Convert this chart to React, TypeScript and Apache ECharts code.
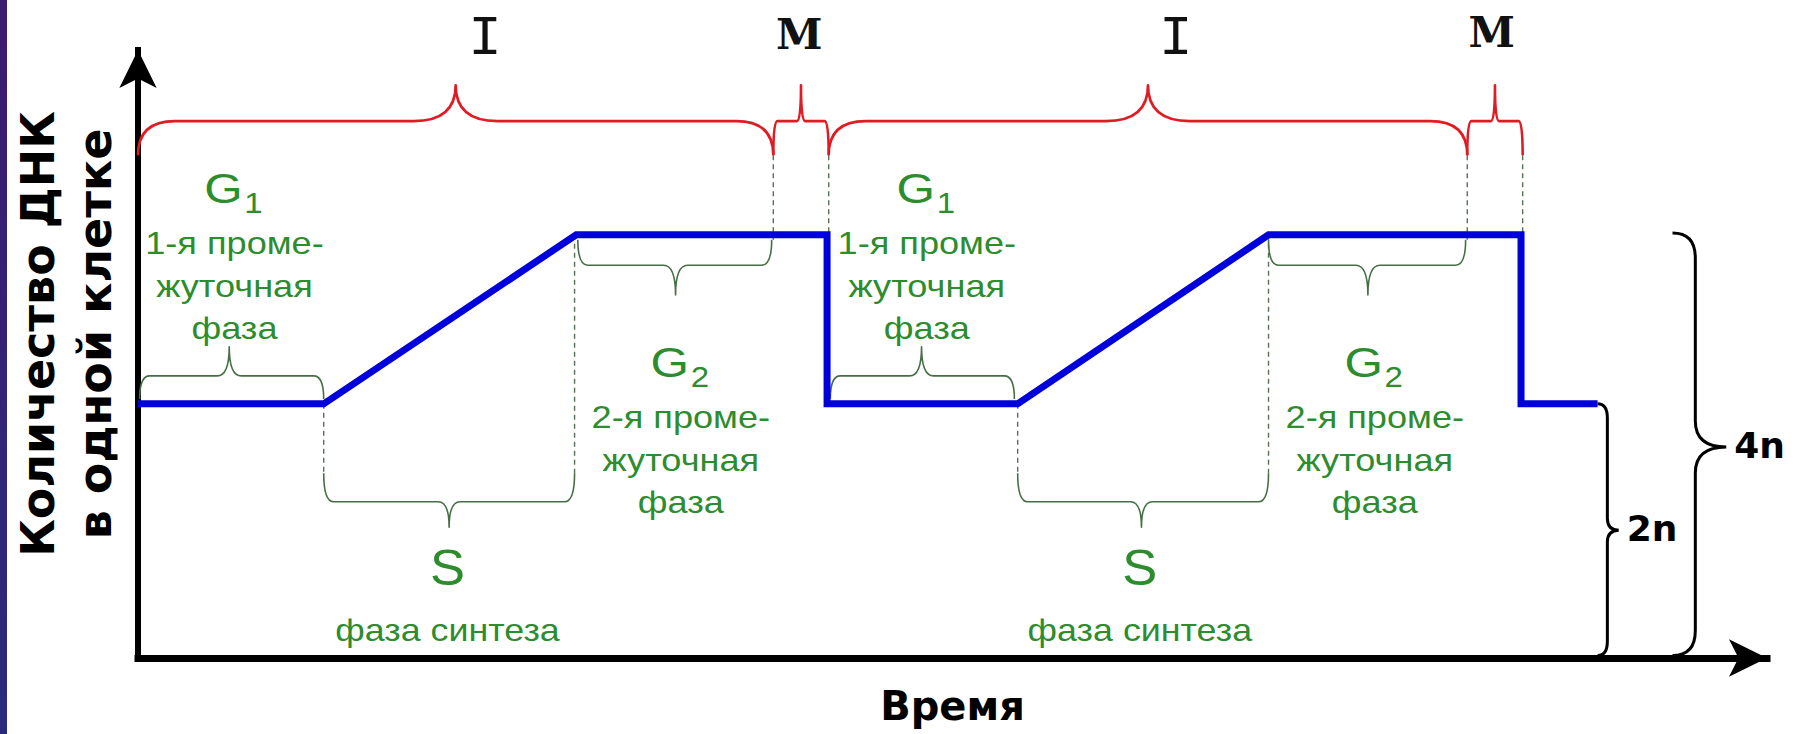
import React, { useEffect, useRef } from 'react';
import * as echarts from 'echarts';

// ---- data (time axis 0..100, DNA amount axis 0..100, relative units as drawn) ----
const DNA_TIME = [0, 11.4, 26.9, 42.3, 42.3, 54.0, 69.4, 84.9, 84.9, 89.6];
const DNA_AMOUNT = [41.8, 41.8, 69.6, 69.6, 41.8, 41.8, 69.6, 69.6, 41.8, 41.8];

// braces along time: [start, end, tip]
const I_BRACES = [[0, 39.0, 19.5], [42.4, 81.6, 62.0]];
const M_BRACES = [[39.0, 42.4, 40.7], [81.6, 85.0, 83.3]];
const G1_BRACES = [[0.1, 11.4, 5.6], [42.5, 53.8, 48.1]];
const S_BRACES = [[11.4, 26.8, 19.1], [54.0, 69.4, 61.6]];
const G2_BRACES = [[27.0, 38.9, 33.0], [69.4, 81.5, 75.5]];
// brace levels on the DNA axis: [ends, body, tip]
const RED_LEVELS = [82.7, 88.3, 94.2];
const G1_LEVELS = [42.6, 46.4, 51.2];
const S_LEVELS = [30.4, 25.7, 21.5];
const G2_LEVELS = [68.8, 64.6, 59.7];

// ploidy braces: [bottom, top, tipY, endX, bodyX, tipX]
const PLOIDY_BRACES = [
  [0.4, 41.8, 21.0, 89.6, 90.2, 90.9],
  [0.4, 69.9, 34.7, 94.2, 95.6, 97.5],
];
const PLOIDY_LABELS = ['2n', '4n'];

// dashed guides: [x, yFrom, yTo]
const GUIDES = [
  [11.4, 41.8, 30.4], [26.8, 69.6, 30.4], [39.0, 82.7, 68.8], [42.4, 82.7, 69.6],
  [54.0, 41.8, 30.4], [69.4, 69.6, 30.4], [81.6, 82.7, 68.8], [85.0, 82.7, 69.6],
];

// phase labels
const TOP_LABELS = ['I', 'M', 'I', 'M'];
const TOP_LABEL_X = [21.3, 40.6, 63.7, 83.1];
const TOP_LABEL_Y = [101.8, 102.6, 101.8, 102.8];

const G1_LABEL_X = [5.8, 48.3];
const G1_LABEL_Y = 77.3;
const G1_TEXT = ['1-я проме-', 'жуточная', 'фаза'];
const G2_LABEL_X = [33.2, 75.8];
const G2_LABEL_Y = 48.7;
const G2_TEXT = ['2-я проме-', 'жуточная', 'фаза'];
const S_LABEL_X = [19.0, 61.5];
const S_LABEL_Y = 14.8;
const S_TEXT = 'фаза синтеза';

const X_NAME = 'Время';
const Y_NAME = 'Количество ДНК\nв одной клетке';

// ---- styles ----
const RED = '#e01b24';
const BLUE = '#0000dd';
const GREEN_TEXT = '#2d8c2d';
const GREEN_LINE = '#466e46';
const DASH = '#56705a';
const SANS = "'Liberation Sans', Arial, sans-serif";
const BOLD_SANS = "'DejaVu Sans', Verdana, sans-serif";
const PLOIDY_CURL = [14, 25];
const PLOIDY_TIP = [12, 26];

function hBracePath(X0: number, X1: number, XT: number, YE: number, YB: number, YT: number, rE: number, rT: number) {
  return `M${X0},${YE} Q${X0},${YB} ${X0 + rE},${YB} L${XT - rT},${YB} Q${XT},${YB} ${XT},${YT} Q${XT},${YB} ${XT + rT},${YB} L${X1 - rE},${YB} Q${X1},${YB} ${X1},${YE}`;
}
function vBracePath(YTop: number, YBot: number, YT: number, XE: number, XB: number, XT: number, rE: number, rT: number) {
  return `M${XE},${YTop} Q${XB},${YTop} ${XB},${YTop + rE} L${XB},${YT - rT} Q${XB},${YT} ${XT},${YT} Q${XB},${YT} ${XB},${YT + rT} L${XB},${YBot - rE} Q${XB},${YBot} ${XE},${YBot}`;
}

function hBraceSeries(data: number[][], levels: number[], color: string, width: number, rE: number, rT: number) {
  return {
    type: 'custom',
    coordinateSystem: 'cartesian2d',
    silent: true,
    clip: false,
    z: 3,
    data,
    renderItem: (_p: any, api: any) => {
      const [X0, YE] = api.coord([api.value(0), levels[0]]);
      const [X1] = api.coord([api.value(1), levels[0]]);
      const YB = api.coord([api.value(0), levels[1]])[1];
      const [XT, YT] = api.coord([api.value(2), levels[2]]);
      return {
        type: 'path',
        shape: { pathData: hBracePath(X0, X1, XT, YE, YB, YT, rE, rT) },
        style: { fill: 'none', stroke: color, lineWidth: width, lineJoin: 'round' },
      };
    },
  };
}

function greenText(text: string, x: number, y: number, size: number, sx: number) {
  return {
    type: 'text',
    x,
    y,
    scaleX: sx,
    style: { text, fontSize: size, fontFamily: SANS, fill: GREEN_TEXT, align: 'center', verticalAlign: 'middle' },
  };
}

function gBlockSeries(xs: number[], yLevel: number, sub: string, lines: string[]) {
  return {
    type: 'custom',
    coordinateSystem: 'cartesian2d',
    silent: true,
    clip: false,
    z: 4,
    data: xs.map((x) => [x, yLevel]),
    renderItem: (_p: any, api: any) => {
      const [X, Y] = api.coord([api.value(0), api.value(1)]);
      return {
        type: 'group',
        children: [
          greenText('G', X - 9, Y, 43, 1.15),
          greenText(sub, X + 21, Y + 15, 30, 1.1),
          greenText(lines[0], X + 2, Y + 55, 32, 1.13),
          greenText(lines[1], X + 2, Y + 98, 32, 1.13),
          greenText(lines[2], X + 2, Y + 140, 32, 1.13),
        ],
      };
    },
  };
}

function buildOption() {
  const series: any[] = [];

  // dashed guides
  series.push({
    type: 'custom',
    coordinateSystem: 'cartesian2d',
    silent: true,
    clip: false,
    z: 2,
    data: GUIDES,
    renderItem: (_p: any, api: any) => {
      const [X, Y1] = api.coord([api.value(0), api.value(1)]);
      const Y2 = api.coord([api.value(0), api.value(2)])[1];
      return {
        type: 'line',
        shape: { x1: X, y1: Y1, x2: X, y2: Y2 },
        style: { stroke: DASH, lineWidth: 1.4, lineDash: [5, 4] },
      };
    },
  });

  // DNA amount line
  series.push({
    type: 'line',
    silent: true,
    z: 5,
    symbol: 'none',
    data: DNA_TIME.map((t, i) => [t, DNA_AMOUNT[i]]),
    lineStyle: { color: BLUE, width: 7, join: 'miter', cap: 'butt' },
  });

  // braces
  series.push(hBraceSeries(I_BRACES, RED_LEVELS, RED, 2.6, 37, 42));
  series.push(hBraceSeries(M_BRACES, RED_LEVELS, RED, 2.6, 4, 4));
  series.push(hBraceSeries(G1_BRACES, G1_LEVELS, GREEN_LINE, 1.6, 10, 12));
  series.push(hBraceSeries(S_BRACES, S_LEVELS, GREEN_LINE, 1.6, 10, 11));
  series.push(hBraceSeries(G2_BRACES, G2_LEVELS, GREEN_LINE, 1.6, 10, 12));

  // ploidy braces + labels
  series.push({
    type: 'custom',
    coordinateSystem: 'cartesian2d',
    silent: true,
    clip: false,
    z: 3,
    data: PLOIDY_BRACES,
    renderItem: (p: any, api: any) => {
      const i = p.dataIndex;
      const YBot = api.coord([api.value(3), api.value(0)])[1];
      const YTop = api.coord([api.value(3), api.value(1)])[1];
      const YT = api.coord([api.value(3), api.value(2)])[1];
      const XE = api.coord([api.value(3), 0])[0];
      const XB = api.coord([api.value(4), 0])[0];
      const XT = api.coord([api.value(5), 0])[0];
      return {
        type: 'group',
        children: [
          {
            type: 'path',
            shape: { pathData: vBracePath(YTop, YBot, YT, XE, XB, XT, PLOIDY_CURL[i], PLOIDY_TIP[i]) },
            style: { fill: 'none', stroke: '#000', lineWidth: 3 },
          },
          {
            type: 'text',
            x: XT + 8,
            y: YT - 2,
            style: {
              text: PLOIDY_LABELS[i],
              fontSize: 36,
              fontWeight: 'bold',
              fontFamily: BOLD_SANS,
              fill: '#000',
              align: 'left',
              verticalAlign: 'middle',
            },
          },
        ],
      };
    },
  });

  // I / M labels
  series.push({
    type: 'custom',
    coordinateSystem: 'cartesian2d',
    silent: true,
    clip: false,
    z: 4,
    data: TOP_LABEL_X.map((x, i) => [x, TOP_LABEL_Y[i]]),
    renderItem: (p: any, api: any) => {
      const [X, Y] = api.coord([api.value(0), api.value(1)]);
      const lbl = TOP_LABELS[p.dataIndex];
      const isM = lbl === 'M';
      return {
        type: 'text',
        x: X,
        y: Y,
        style: {
          text: lbl,
          fontSize: isM ? 42 : 56,
          fontWeight: isM ? 'bold' : 'normal',
          fontFamily: isM ? "'DejaVu Serif', serif" : "'Liberation Mono', monospace",
          fill: '#111',
          align: 'center',
          verticalAlign: 'middle',
        },
      };
    },
  });

  // G1 / G2 label blocks
  series.push(gBlockSeries(G1_LABEL_X, G1_LABEL_Y, '1', G1_TEXT));
  series.push(gBlockSeries(G2_LABEL_X, G2_LABEL_Y, '2', G2_TEXT));

  // S label blocks
  series.push({
    type: 'custom',
    coordinateSystem: 'cartesian2d',
    silent: true,
    clip: false,
    z: 4,
    data: S_LABEL_X.map((x) => [x, S_LABEL_Y]),
    renderItem: (_p: any, api: any) => {
      const [X, Y] = api.coord([api.value(0), api.value(1)]);
      return {
        type: 'group',
        children: [greenText('S', X, Y, 50, 1.05), greenText(S_TEXT, X, Y + 62, 32, 1.12)],
      };
    },
  });

  return {
    animation: false,
    backgroundColor: '#ffffff',
    grid: { left: 138, right: 28, top: 50, bottom: 76, containLabel: false, outerBoundsMode: 'none' },
    xAxis: {
      type: 'value',
      min: 0,
      max: 100,
      name: X_NAME,
      nameLocation: 'middle',
      nameGap: 28,
      nameTextStyle: { fontFamily: BOLD_SANS, fontWeight: 'bold', fontSize: 40, color: '#000', lineHeight: 40 },
      axisLine: {
        show: true,
        symbol: ['none', 'arrow'],
        symbolSize: [28, 38],
        lineStyle: { color: '#000', width: 7, cap: 'square' },
      },
      axisTick: { show: false },
      axisLabel: { show: false },
      splitLine: { show: false },
    },
    yAxis: {
      type: 'value',
      min: 0,
      max: 100,
      name: Y_NAME,
      nameLocation: 'middle',
      nameRotate: 90,
      nameGap: 15,
      nameTextStyle: {
        fontFamily: BOLD_SANS,
        fontWeight: 'bold',
        fontSize: 46,
        color: '#000',
        lineHeight: 57,
        padding: [0, 0, 0, 40],
      },
      axisLine: {
        show: true,
        symbol: ['none', 'arrow'],
        symbolSize: [28, 38],
        lineStyle: { color: '#000', width: 6, cap: 'square' },
      },
      axisTick: { show: false },
      axisLabel: { show: false },
      splitLine: { show: false },
    },
    graphic: [
      {
        type: 'rect',
        left: 0,
        top: 0,
        silent: true,
        shape: { width: 7, height: 734 },
        style: {
          fill: new echarts.graphic.LinearGradient(0, 0, 0, 1, [
            { offset: 0, color: '#3d1a6e' },
            { offset: 1, color: '#2a2a7c' },
          ]),
        },
      },
    ],
    series,
  };
}

export default function App() {
  const ref = useRef<HTMLDivElement>(null);
  useEffect(() => {
    if (!ref.current) return;
    const chart = echarts.init(ref.current, null, { renderer: 'svg' });
    chart.setOption(buildOption() as any);
    return () => chart.dispose();
  }, []);
  return (
    <div
      ref={ref}
      style={{ position: 'fixed', left: 0, top: 0, width: 1795, height: 734, background: '#fff' }}
    />
  );
}
